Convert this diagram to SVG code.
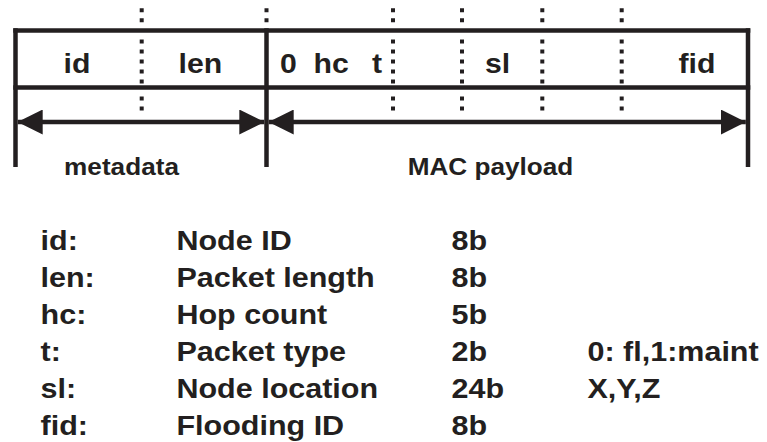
<svg xmlns="http://www.w3.org/2000/svg" width="767" height="442" viewBox="0 0 767 442">
  <style>
    .t { font-family: "Liberation Sans", Arial, Helvetica, sans-serif; font-weight: bold; fill: #231f20; }
    .box { font-size: 27px; }
    .lab { font-size: 24px; }
    .leg { font-size: 28px; }
    .solid { stroke: #231f20; stroke-width: 4.5; fill: none; }
    .dot { stroke: #231f20; stroke-width: 4; stroke-dasharray: 4 6; fill: none; }
    .arr { stroke: #231f20; stroke-width: 4.3; fill: none; }
  </style>
  <defs>
    <marker id="ah" markerUnits="userSpaceOnUse" markerWidth="25" markerHeight="25" refX="25" refY="12.5" orient="auto-start-reverse" viewBox="0 0 25 25">
      <path d="M0,0 L25,12.5 L0,25 z" fill="#231f20"/>
    </marker>
    <g id="divider">
      <line class="dot" x1="0" y1="8.3" x2="0" y2="23"/>
      <line class="dot" x1="0" y1="39.5" x2="0" y2="84"/>
      <line class="dot" x1="0" y1="96.5" x2="0" y2="110.5"/>
    </g>
  </defs>
  <rect width="767" height="442" fill="#ffffff"/>

  <g id="frame">
    <line class="solid" x1="13.3" y1="30.5" x2="750.3" y2="30.5"/>
    <line class="solid" x1="13.3" y1="87.5" x2="750.3" y2="87.5"/>
    <line class="solid" x1="15.5" y1="28.3" x2="15.5" y2="167"/>
    <line class="solid" x1="266.5" y1="28.3" x2="266.5" y2="167"/>
    <line class="solid" x1="748" y1="28.3" x2="748" y2="167"/>
  </g>

  <g id="dividers">
    <use href="#divider" x="141.7"/>
    <line class="dot" x1="266.5" y1="8.3" x2="266.5" y2="23"/>
    <use href="#divider" x="393"/>
    <use href="#divider" x="462"/>
    <use href="#divider" x="542.3"/>
    <use href="#divider" x="621.7"/>
  </g>

  <g id="fields" transform="scale(1.12,1)">
    <text class="t box" x="56.7" y="73.5">id</text>
    <text class="t box" x="159.4" y="73.5">len</text>
    <text class="t box" x="250" y="73.5">0</text>
    <text class="t box" x="279.9" y="73.5">hc</text>
    <text class="t box" x="332.1" y="73.5">t</text>
    <text class="t box" x="433" y="73.5">sl</text>
    <text class="t box" x="605.8" y="73.5">fid</text>
  </g>

  <g id="connectors">
    <line class="arr" x1="17.7" y1="122" x2="264.3" y2="122" marker-start="url(#ah)" marker-end="url(#ah)"/>
    <line class="arr" x1="268.7" y1="122" x2="745.8" y2="122" marker-start="url(#ah)" marker-end="url(#ah)"/>
  </g>

  <g id="metadata" transform="scale(1.09,1)">
    <text class="t lab" x="111.5" y="175.5" text-anchor="middle">metadata</text>
  </g>
  <g id="mac-payload" transform="scale(1.09,1)">
    <text class="t lab" x="450" y="175.5" text-anchor="middle">MAC payload</text>
  </g>

  <g id="legend" transform="scale(1.09,1)">
    <text class="t leg" x="37.2" y="250">id:</text>
    <text class="t leg" x="161.9" y="250">Node ID</text>
    <text class="t leg" x="414.2" y="250">8b</text>

    <text class="t leg" x="37.2" y="287">len:</text>
    <text class="t leg" x="161.9" y="287">Packet length</text>
    <text class="t leg" x="414.2" y="287">8b</text>

    <text class="t leg" x="37.2" y="324">hc:</text>
    <text class="t leg" x="161.9" y="324">Hop count</text>
    <text class="t leg" x="414.2" y="324">5b</text>

    <text class="t leg" x="37.2" y="361">t:</text>
    <text class="t leg" x="161.9" y="361">Packet type</text>
    <text class="t leg" x="414.2" y="361">2b</text>
    <text class="t leg" x="539" y="361">0: fl,1:maint</text>

    <text class="t leg" x="37.2" y="398">sl:</text>
    <text class="t leg" x="161.9" y="398">Node location</text>
    <text class="t leg" x="414.2" y="398">24b</text>
    <text class="t leg" x="539" y="398">X,Y,Z</text>

    <text class="t leg" x="37.2" y="435">fid:</text>
    <text class="t leg" x="161.9" y="435">Flooding ID</text>
    <text class="t leg" x="414.2" y="435">8b</text>
  </g>
</svg>
